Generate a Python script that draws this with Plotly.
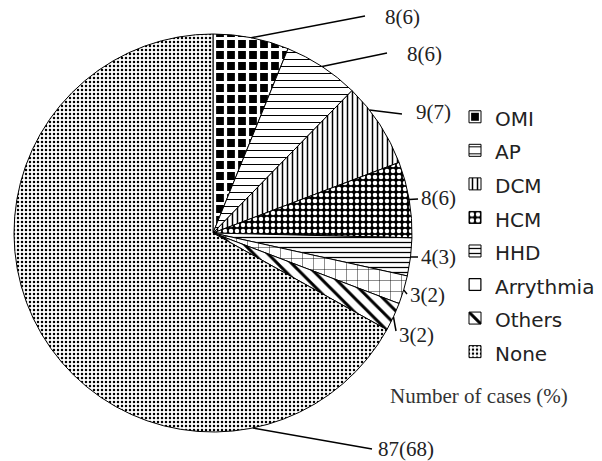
import math
import plotly.graph_objects as go

# ---- data ----
categories = ["OMI", "AP", "DCM", "HCM", "HHD", "Arrythmia", "Others", "None"]
cases = [8, 8, 9, 8, 4, 3, 3, 87]
percents = [6, 6, 7, 6, 3, 2, 2, 68]
# where along each slice the leader line starts (fraction of the slice angle)
anchor_frac = [0.5, 0.5, 0.3, 0.5, 0.5, 0.5, 0.5, 0.205]

# ---- layout constants (pixels) ----
W, H = 602, 461
CX, CY, R = 213, 233, 199
# text left x, text centre y, line end x, line end y
label_pos = [
    (383, 17, 365, 16),
    (405, 54, 387, 53),
    (414, 112, 402, 114),
    (419, 198, 418, 199),
    (419, 257, 418, 257),
    (408, 295, 407, 294),
    (397, 335, 396, 331),
    (376, 449, 372, 449),
]

pat_shape = ["+", "-", "|", ".", "-", "+", "\\", "."]
bg = ["black", "white", "white", "black", "white", "white", "white", "white"]
fg = ["white", "black", "black", "white", "black", "black", "black", "black"]
pat_size = [11, 7, 5, 6, 5, 11, 10, 4]
solid = [0.5, 0.15, 0.3, 0.45, 0.25, 0.08, 0.3, 0.3]

legend_labels = [f"<span style='font-size:20px'>{c}</span>" for c in categories]


def px(x):
    return x / W


def py(y):
    return 1 - y / H


fig = go.Figure(
    go.Pie(
        labels=legend_labels,
        values=cases,
        hovertext=categories,
        hoverinfo="text+value",
        sort=False,
        direction="clockwise",
        rotation=0,
        textinfo="none",
        domain=dict(x=[px(CX - R), px(CX + R)], y=[py(CY + R), py(CY - R)]),
        marker=dict(
            colors=bg,
            line=dict(color="black", width=1),
            pattern=dict(shape=pat_shape, fgcolor=fg, bgcolor=bg,
                         size=pat_size, solidity=solid, fillmode="replace"),
        ),
    )
)

total = sum(cases)
cum = 0
shapes = []
annotations = []
for i, v in enumerate(cases):
    ang = (cum + v * anchor_frac[i]) / total * 2 * math.pi
    cum += v
    ex = CX + R * math.sin(ang)
    ey = CY - R * math.cos(ang)
    tx, ty, lx, ly = label_pos[i]
    shapes.append(dict(type="line", xref="paper", yref="paper",
                       x0=px(ex), y0=py(ey), x1=px(lx), y1=py(ly),
                       line=dict(color="black", width=1.5)))
    annotations.append(dict(x=px(tx), y=py(ty), xref="paper", yref="paper",
                            text=f"{v}({percents[i]})", showarrow=False,
                            xanchor="left", yanchor="middle",
                            font=dict(family="Liberation Serif", size=21, color="#222")))

annotations.append(dict(x=px(479), y=py(396), xref="paper", yref="paper",
                        text="Number of cases (%)", showarrow=False,
                        xanchor="center", yanchor="middle",
                        font=dict(family="Liberation Serif", size=21, color="#333")))

fig.update_layout(
    width=W, height=H,
    margin=dict(l=0, r=0, t=0, b=0),
    paper_bgcolor="white",
    plot_bgcolor="white",
    showlegend=True,
    legend=dict(x=px(455), y=py(95), xanchor="left", yanchor="top",
                font=dict(family="DejaVu Sans", size=23.5, color="#222"),
                bgcolor="rgba(0,0,0,0)"),
    shapes=shapes,
    annotations=annotations,
)

fig.write_html("out.html", config={"displayModeBar": False},
               post_script="document.body.style.margin='0px';")
